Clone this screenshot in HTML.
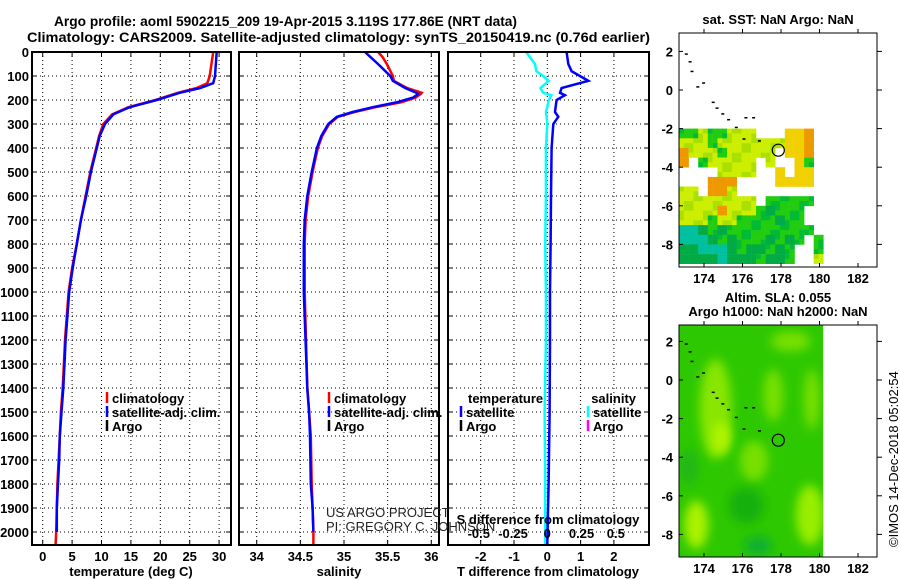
<!DOCTYPE html>
<html><head><meta charset="utf-8">
<style>
html,body{margin:0;padding:0;background:#fff;}
svg{display:block;font-family:"Liberation Sans",sans-serif;}
.b{font-weight:bold;font-size:13px;}
</style></head>
<body>
<svg id="chart" width="900" height="580" viewBox="0 0 900 580" xmlns="http://www.w3.org/2000/svg">
<text x="54" y="26" class="b" style="font-size:14px" textLength="463" lengthAdjust="spacingAndGlyphs">Argo profile: aoml 5902215_209 19-Apr-2015 3.119S 177.86E (NRT data)</text>
<text x="27" y="42" class="b" style="font-size:14px" textLength="623" lengthAdjust="spacingAndGlyphs">Climatology: CARS2009. Satellite-adjusted climatology: synTS_20150419.nc (0.76d earlier)</text>
<g id="plots"></g>
<text x="131" y="576" class="b" text-anchor="middle">temperature (deg C)</text>
<text x="339" y="576" class="b" text-anchor="middle">salinity</text>
<text x="548" y="576" class="b" text-anchor="middle">T difference from climatology</text>
<text x="548" y="524" class="b" text-anchor="middle">S difference from climatology</text>
<text x="326" y="517" font-size="13" fill="#222">US ARGO PROJECT</text>
<text x="326" y="531" font-size="13" fill="#222">PI: GREGORY C. JOHNSON</text>
<text x="778" y="24" class="b" text-anchor="middle">sat. SST: NaN Argo: NaN</text>
<text x="778" y="302" class="b" text-anchor="middle">Altim. SLA: 0.055</text>
<text x="778" y="316" class="b" text-anchor="middle">Argo h1000: NaN h2000: NaN</text>
<text transform="translate(898,547) rotate(-90)" font-size="13">©IMOS 14-Dec-2018 05:02:54</text>
</svg>
<script>
// ---- data ----
const depthTicks = [0,100,200,300,400,500,600,700,800,900,1000,1100,1200,1300,1400,1500,1600,1700,1800,1900,2000];
const tempTicks = [0,5,10,15,20,25,30];
const salTicks = [34,34.5,35,35.5,36];
const salTickLabels = ["34","34.5","35","35.5","36"];
const tdiffTicks = [-2,-1,0,1,2];
const sdiffTicks = [-0.5,-0.25,0,0.25,0.5];
const sdiffTickLabels = ["-0.5","-0.25","0","0.25","0.5"];
const profDepth = [0,100,130,150,170,200,230,260,300,350,400,500,600,700,800,900,1000,1100,1200,1300,1400,1500,1600,1700,1800,1900,2000,2050];
const tempClim = [29.0,28.4,28.0,26.2,23.0,19.2,14.6,11.8,10.3,9.6,9.1,8.1,7.3,6.5,5.8,5.0,4.4,4.1,3.8,3.6,3.4,3.1,2.9,2.7,2.5,2.4,2.3,2.2];
const tempSat = [29.6,29.3,29.0,26.8,23.3,19.4,14.8,12.0,10.6,9.7,9.2,8.2,7.4,6.5,5.8,5.1,4.5,4.2,3.9,3.7,3.5,3.2,2.9,2.8,2.6,2.4,2.4,2.4];
const salDepth = [0,20,50,100,120,150,170,175,190,210,230,250,270,300,350,400,500,600,700,800,1000,1400,1500,1600,1800,1900,2000,2050];
const salClim = [35.39,35.44,35.49,35.56,35.57,35.72,35.89,35.88,35.82,35.65,35.36,35.12,34.93,34.83,34.75,34.70,34.64,34.59,34.56,34.55,34.55,34.58,34.60,34.62,34.63,34.64,34.65,34.65];
const salSat = [35.24,35.30,35.39,35.53,35.56,35.70,35.83,35.85,35.79,35.60,35.33,35.10,34.92,34.82,34.74,34.69,34.63,34.58,34.55,34.54,34.54,34.58,34.60,34.61,34.62,34.64,34.65,34.65];
const diffDepth = [0,50,80,100,120,150,170,180,200,230,250,270,300,400,600,800,1000,1200,1500,1800,2050];
const tdiffSat = [0.58,0.63,0.73,0.98,1.23,0.43,0.38,0.53,0.28,0.25,0.23,0.33,0.18,0.13,0.11,0.10,0.08,0.08,0.07,0.04,0.0];
const sdiffSat = [-0.155,-0.09,-0.08,-0.03,0.01,-0.05,-0.03,0.03,0.01,0.0,-0.01,-0.005,0.0,-0.01,-0.01,-0.015,-0.01,-0.01,-0.02,-0.015,-0.015];
const mapLonTicks = [174,176,178,180,182];
const mapLatTicks = [2,0,-2,-4,-6,-8];
const profileLon = 177.86, profileLat = -3.119;
const sstRows = [
"ggyggyyy...YYo.",
"yyygyyyyyyyYYo.",
"oyyygyyyyy.YYo.",
"o.gyyyyy.y..Yg.",
"....yyyy..Y.YY.",
"...ooo....YYYY.",
"yy.ooy.........",
"yyyyyyyy.ggggg.",
"yyyyoyyygGggg..",
"yyygyyggggGgg..",
"ccGgGggggggggg.",
"cccGgGgggGgGg.g",
"GGcccGgGGgGg..g",
"GGGGcGGGgGGg..y"];
const sstColors = {g:"#22cc11",y:"#ccee00",o:"#ee9900",c:"#00c0a0",Y:"#f0d000",G:"#00aa44"};
const coastLon = [173.0,173.2,173.3,173.6,173.9,174.4,174.6,174.9,175.2,175.6,176.0,176.1,176.5,176.8];
const coastLat = [1.9,1.5,1.0,0.2,0.4,-0.6,-0.9,-1.2,-1.5,-1.9,-2.5,-1.4,-1.4,-2.6];
// ---- drawing ----
const NS="http://www.w3.org/2000/svg";
const g=document.getElementById('plots');
function mk(tag,attrs,parent){const e=document.createElementNS(NS,tag);for(const k in attrs)e.setAttribute(k,attrs[k]);(parent||g).appendChild(e);return e;}
const yD = d => 52 + d*0.24;
const P = {top:52,bottom:545};
const panels = [
 {name:'temperature-panel',x0:32,x1:231,fx:v=>42.7+v*5.88},
 {name:'salinity-panel',x0:239,x1:439,fx:v=>256.7+(v-34)*87.3},
 {name:'difference-panel',x0:448,x1:649,fx:v=>547.3+v*33.3}];
const fxS = v=>547.3+v*137;
function grid(p,ticksX,fx){
  ticksX.forEach(t=>{const x=fx(t);
    const l=mk('line',{x1:x,x2:x,y1:P.top,y2:P.bottom,stroke:'#000','stroke-width':1,'stroke-dasharray':'1,3'});
    
    
    mk('line',{x1:x,x2:x,y1:P.bottom,y2:P.bottom-5,stroke:'#000'});mk('line',{x1:x,x2:x,y1:P.top,y2:P.top+5,stroke:'#000'});});
  depthTicks.forEach(d=>{const y=yD(d);
    const l=mk('line',{x1:p.x0,x2:p.x1,y1:y,y2:y,stroke:'#000','stroke-width':1,'stroke-dasharray':'1,3'});
    
    
    mk('line',{x1:p.x0,x2:p.x0+5,y1:y,y2:y,stroke:'#000'});mk('line',{x1:p.x1,x2:p.x1-5,y1:y,y2:y,stroke:'#000'});});
}
function frame(p){const r=mk('rect',{x:p.x0,y:P.top,width:p.x1-p.x0,height:P.bottom-P.top,fill:'none',stroke:'#000','stroke-width':2});
  
  }
function line(xs,ds,fx,color,name,w){const pts=xs.map((v,i)=>fx(v).toFixed(1)+','+yD(ds[i]).toFixed(1)).join(' ');
  const pl=mk('polyline',{points:pts,fill:'none',stroke:color,'stroke-width':w||2.5,'stroke-linejoin':'miter'});
  
  }
function txt(x,y,s,anchor,name,cls,size){const t=mk('text',{x:x,y:y,'text-anchor':anchor||'start','font-weight':'bold','font-size':size||13});t.textContent=s;
  
  return t;}
// panel 1
grid(panels[0],tempTicks,panels[0].fx);
line(tempClim,profDepth,panels[0].fx,'#f00','temperature-climatology-line');
line(tempSat,profDepth.slice(0,27),panels[0].fx,'#00f','temperature-satellite-line');
frame(panels[0]);
depthTicks.forEach(d=>txt(29,yD(d)+5,String(d),'end','depth-tick-label'));
tempTicks.forEach(t=>txt(panels[0].fx(t),561,String(t),'middle','temperature-tick-label'));
// panel 2
grid(panels[1],salTicks,panels[1].fx);
line(salClim,salDepth,panels[1].fx,'#f00','salinity-climatology-line');
line(salSat.slice(0,27),salDepth.slice(0,27),panels[1].fx,'#00f','salinity-satellite-line');
frame(panels[1]);
salTicks.forEach((t,i)=>txt(panels[1].fx(t),561,salTickLabels[i],'middle','salinity-tick-label'));
// panel 3
grid(panels[2],tdiffTicks,panels[2].fx);
line(sdiffSat,diffDepth,fxS,'#0ff','salinity-difference-line');
line(tdiffSat,diffDepth,panels[2].fx,'#00f','temperature-difference-line');
frame(panels[2]);
tdiffTicks.forEach(t=>txt(panels[2].fx(t),561,String(t),'middle','t-difference-tick-label'));
sdiffTicks.forEach((t,i)=>txt(fxS(t),538,sdiffTickLabels[i],'middle','s-difference-tick-label'));
// legends
function legItem(x,y,color,label,name,anchor){mk('line',{x1:x,x2:x,y1:y-11,y2:y,stroke:color,'stroke-width':2.5});
  txt(anchor==='end'?x-4:x+5,y,label,anchor||'start',name);}
[[107,'panel-1'],[329,'panel-2']].forEach(([lx,pn])=>{
  legItem(lx,403,'#f00','climatology',pn+'-legend-climatology');
  legItem(lx,417,'#00f','satellite-adj. clim.',pn+'-legend-satellite');
  legItem(lx,431,'#000','Argo',pn+'-legend-argo');});
txt(468,403,'temperature','start','legend-temperature-heading');
legItem(461,417,'#00f','satellite','legend-temperature-satellite');
legItem(461,431,'#000','Argo','legend-temperature-argo');
txt(636,403,'salinity','end','legend-salinity-heading');
legItem(588,417,'#0ff','satellite','legend-salinity-satellite');
legItem(588,431,'#f0f','Argo','legend-salinity-argo');
// maps
const mx = lon=>704+(lon-174)*19.25;
function drawMap(name,top,bottom,y0,fill){
  const my = lat=>y0-lat*19.3;
  const grp=mk('g',{});
  
  
  fill(grp,my);
  coastLon.forEach((lo,i)=>{mk('rect',{x:mx(coastLon[i]),y:my(coastLat[i]),width:3,height:1.5,fill:'#000'},grp);});
  const c=mk('circle',{cx:mx(profileLon),cy:my(profileLat),r:6,fill:'none',stroke:'#000','stroke-width':1.2},grp);
  
  
  mk('rect',{x:679,y:top,width:198,height:bottom-top,fill:'none',stroke:'#000','stroke-width':1},grp);
  mapLatTicks.forEach(l=>{const y=my(l);mk('line',{x1:679,x2:683,y1:y,y2:y,stroke:'#000'},grp);mk('line',{x1:877,x2:882,y1:y,y2:y,stroke:'#000'},grp);
    txt(673,y+5,String(l),'end',name+'-lat-label');});
  mapLonTicks.forEach(l=>{const x=mx(l);mk('line',{x1:x,x2:x,y1:bottom,y2:bottom-4,stroke:'#000'},grp);mk('line',{x1:x,x2:x,y1:top,y2:top-4,stroke:'#000'},grp);
    txt(x,bottom+16,String(l),'middle',name+'-lon-label');});
}
drawMap('sst-map',33,267,90,(grp,my)=>{
  sstRows.forEach((row,r)=>{[...row].forEach((ch,cI)=>{if(ch==='.')return;
    const lon=172.7+cI*0.5, lat=-2.0-r*0.5;
    const x=mx(lon), y=my(lat), w=mx(lon+0.5)-x, h=my(lat-0.5)-y;
    for(let a=0;a<2;a++)for(let b=0;b<2;b++){
      const col=((a+b+r+cI)%3===0&&ch!=='o')?(ch==='y'?'#aae000':(ch==='g'?'#00bb33':sstColors[ch])):sstColors[ch];
      mk('rect',{x:(x+a*w/2).toFixed(1),y:(y+b*h/2).toFixed(1),width:(w/2+0.3).toFixed(1),height:(h/2+0.3).toFixed(1),fill:col},grp);}
  });});
});
drawMap('sla-map',325,557,380,(grp,my)=>{
  const defs=mk('defs',{},grp);
  const f=mk('filter',{id:'blur',x:'-50%',y:'-50%',width:'200%',height:'200%'},defs);
  mk('feGaussianBlur',{stdDeviation:5},f);
  const cp=mk('clipPath',{id:'slaclip'},defs);
  mk('rect',{x:679,y:325,width:mx(180.2)-679,height:232},cp);
  const gg=mk('g',{'clip-path':'url(#slaclip)'},grp);
  mk('rect',{x:679,y:325,width:mx(180.2)-679,height:232,fill:'#2ec800'},gg);
  const blobs=[[174.6,-1.5,16,50,'#88e600'],[174.9,-3,9,16,'#b0f400'],[177.6,-0.8,10,26,'#77e000'],[176.6,-4.2,14,20,'#77e000'],[173.6,-7.5,12,24,'#aaf200'],[179.5,-7,14,30,'#99ee00'],[176.2,-6.5,18,18,'#18b010'],[178.5,2,20,10,'#77e000'],[176.8,-8.6,14,10,'#10b030'],[179.6,-1,8,30,'#77e000'],[173.2,-4.5,10,18,'#20b818']];
  blobs.forEach(b=>mk('ellipse',{cx:mx(b[0]),cy:my(b[1]),rx:b[2],ry:b[3],fill:b[4],filter:'url(#blur)'},gg));
});
</script>
</body></html>
